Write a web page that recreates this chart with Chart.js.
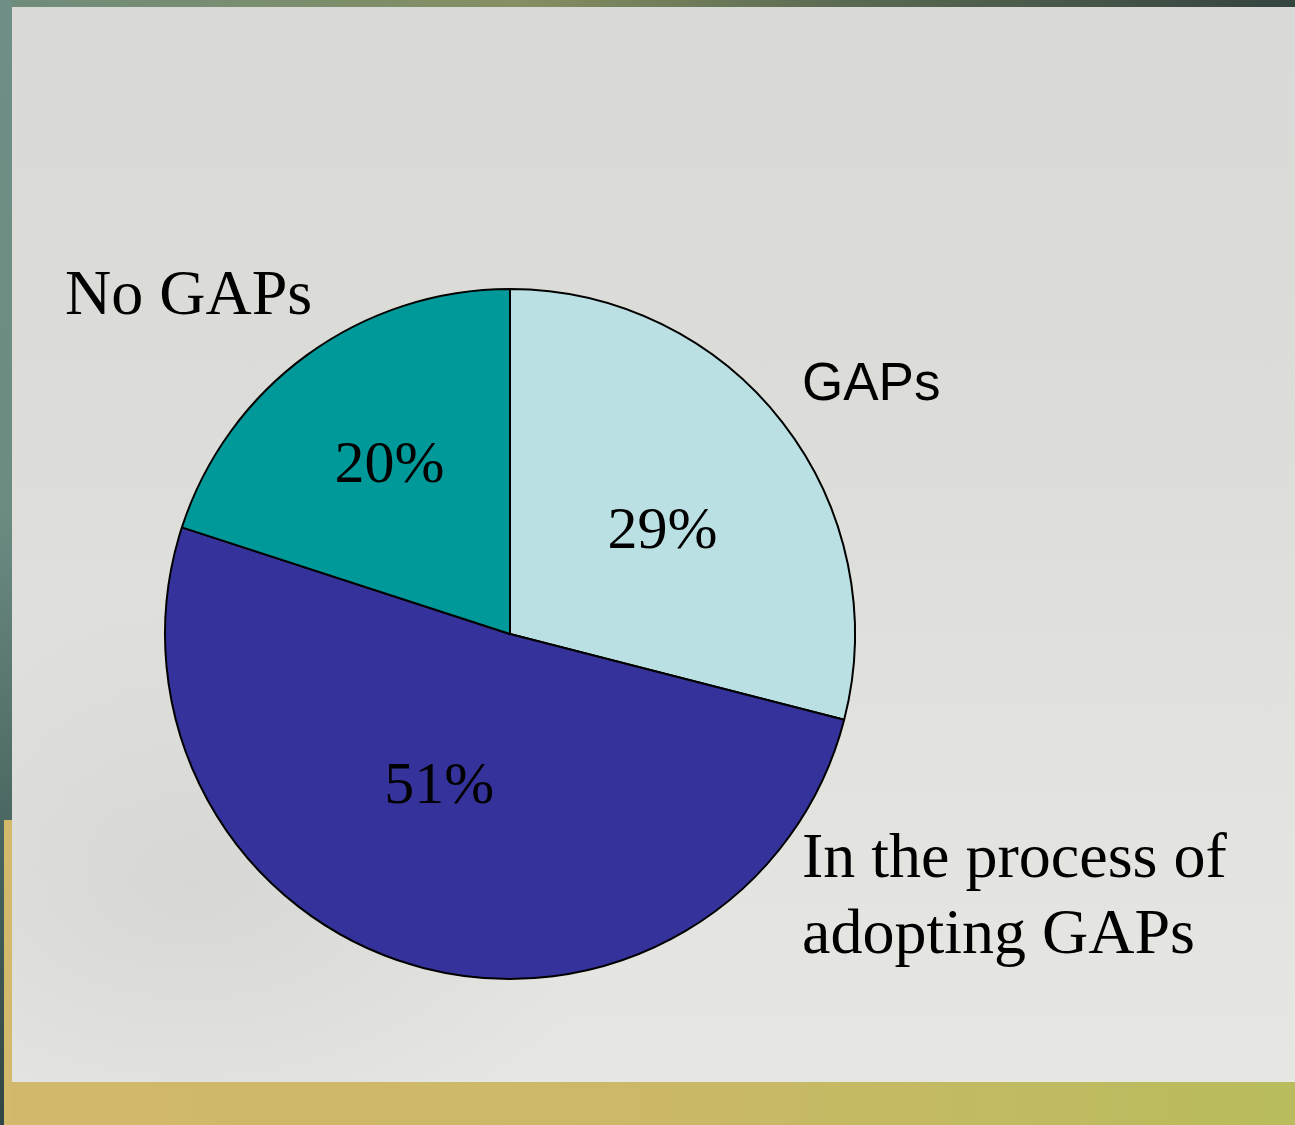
<!DOCTYPE html>
<html>
<head>
<meta charset="utf-8">
<script src="https://cdn.jsdelivr.net/npm/chart.js@4.4.1/dist/chart.umd.min.js"></script>
<style>
  html, body { margin: 0; padding: 0; }
  body {
    width: 1295px; height: 1125px; position: relative; overflow: hidden;
    background: linear-gradient(90deg, #d2b86c 0%, #cdb869 45%, #b8bc5c 100%);
  }
  #frameTop {
    position: absolute; left: 0; top: 0; width: 1295px; height: 8px;
    background: linear-gradient(90deg, #6f8c7c 0%, #858f62 40%, #5b6a52 65%, #34443f 100%);
  }
  #frameLeft {
    position: absolute; left: 0; top: 0; width: 12px; height: 1125px;
    background: linear-gradient(180deg, #6f8f86 0%, #6c8c82 45%, #4f6b66 70%, #2f4644 100%);
  }
  #goldLeft {
    position: absolute; left: 4px; top: 820px; width: 8px; height: 305px;
    background: #d3b96c;
  }
  #panel {
    position: absolute; left: 12px; top: 7px; width: 1283px; height: 1075px;
    background:
      radial-gradient(ellipse 420px 300px at 180px 880px, rgba(185,187,185,0.3), rgba(185,187,185,0) 100%),
      linear-gradient(180deg, #d9dad7 0%, #dcddd8 40%, #e2e3de 70%, #e6e7e2 100%);
  }
  #chartBox { position: absolute; left: 0; top: 0; width: 1295px; height: 1125px; }
  .cat { position: absolute; color: #000; white-space: nowrap; line-height: 1; }
  .serif { font-family: "Liberation Serif", "Times New Roman", serif; font-size: 64px; }
  .sans { font-family: "Liberation Sans", Arial, sans-serif; font-size: 53px; }
</style>
</head>
<body>
<div id="frameTop"></div>
<div id="frameLeft"></div>
<div id="goldLeft"></div>
<div id="panel"></div>
<div id="chartBox"><canvas id="pie"></canvas></div>
<div class="cat serif" style="left:65px; top:261px;">No GAPs</div>
<div class="cat sans" style="left:802px; top:355px;">GAPs</div>
<div class="cat serif" style="left:802px; top:818px; line-height:76px;">In the process of<br>adopting GAPs</div>
<script>
  const categories = ["GAPs", "In the process of adopting GAPs", "No GAPs"];
  const shares = [29, 51, 20];
  const sliceColors = ["#bae0e3", "#35339b", "#009999"];

  // where each percent label sits inside its slice (fraction of radius, angle nudge in degrees)
  const labelRadius = [0.54, 0.475, 0.61];
  const labelNudge = [2.7, 9.4, 1.1];

  const percentLabels = {
    id: "percentLabels",
    afterDatasetsDraw(chart) {
      const ctx = chart.ctx;
      const meta = chart.getDatasetMeta(0);
      const values = chart.data.datasets[0].data;
      const total = values.reduce((a, b) => a + b, 0);
      ctx.save();
      ctx.fillStyle = "#000";
      ctx.font = '60px "Liberation Serif", "Times New Roman", serif';
      ctx.textAlign = "center";
      ctx.textBaseline = "alphabetic";
      meta.data.forEach((arc, i) => {
        const p = arc.getProps(["x", "y", "startAngle", "endAngle", "outerRadius"], true);
        const mid = (p.startAngle + p.endAngle) / 2 + labelNudge[i] * Math.PI / 180;
        const r = p.outerRadius * labelRadius[i];
        const x = p.x + Math.cos(mid) * r;
        const y = p.y + Math.sin(mid) * r;
        const txt = Math.round(values[i] / total * 100) + "%";
        ctx.fillText(txt, x, y + 21);
      });
      ctx.restore();
    }
  };

  new Chart(document.getElementById("pie"), {
    type: "pie",
    data: {
      labels: categories,
      datasets: [{
        data: shares,
        backgroundColor: sliceColors,
        borderColor: "#000",
        borderWidth: 2,
        hoverOffset: 0
      }]
    },
    options: {
      responsive: true,
      maintainAspectRatio: false,
      animation: false,
      devicePixelRatio: 1,
      layout: { padding: { left: 164, right: 439, top: 288, bottom: 145 } },
      plugins: {
        legend: { display: false },
        tooltip: { enabled: false }
      }
    },
    plugins: [percentLabels]
  });
</script>
</body>
</html>
